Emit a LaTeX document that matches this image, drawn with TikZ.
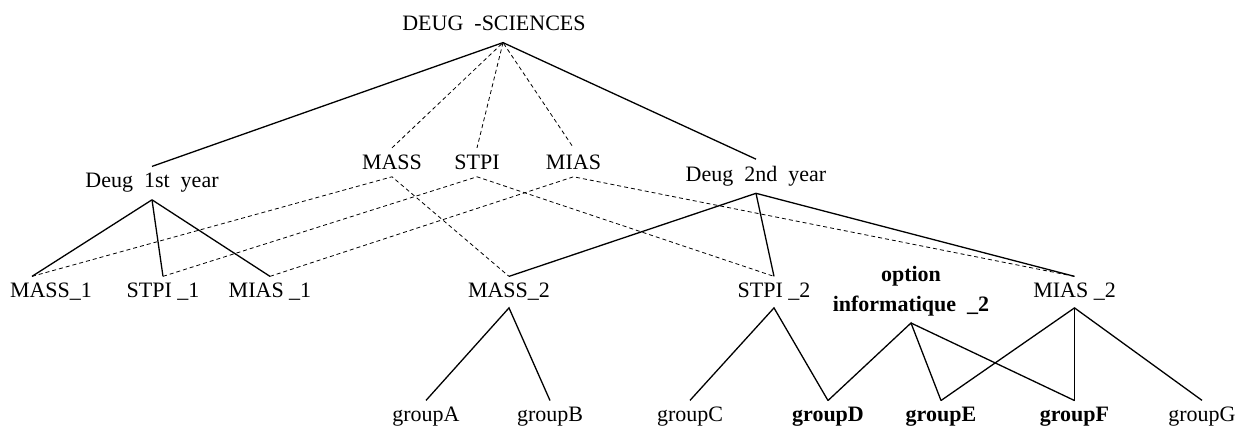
\documentclass[tikz,border=0pt]{standalone}
\usepackage{fontspec}
\setmainfont{Liberation Serif}
\usepackage{tikz}
\usetikzlibrary{positioning}

\begin{document}
\begin{tikzpicture}[x=0.5pt, y=-0.5pt, lbl/.style={font=\fontsize{11}{13.6}\selectfont, anchor=base}, blbl/.style={font=\fontsize{11}{13.6}\selectfont\bfseries, anchor=base}, tie/.style={line width=0.65pt}, link/.style={dashed, dash pattern=on 2pt off 1.5pt, line width=0.4pt}]
    \useasboundingbox (0,0) rectangle (1239,427);
    % root and years
    \node[lbl, inner ysep=5.5pt] (deugsci) at (494,31) {DEUG~ -SCIENCES};
    \node[lbl] (deug1) at (152,188) {Deug~ 1st~ year};
    \node[lbl] (deug2) at (756,181.5) {Deug~ 2nd~ year};
    % sections
    \node[lbl] (mass) at (392,169.5) {MASS};
    \node[lbl] (stpi) at (477,169.5) {STPI};
    \node[lbl] (mias) at (573.5,169.5) {MIAS};
    % first year sections
    \node[lbl] (mass1) at (51,298) {MASS\_1};
    \node[lbl] (stpi1) at (163,298) {STPI \_1};
    \node[lbl] (mias1) at (270,298) {MIAS \_1};
    % second year sections
    \node[lbl] (mass2) at (509,298) {MASS\_2};
    \node[lbl] (stpi2) at (774,298) {STPI \_2};
    \node[blbl, anchor=south, align=center] (optinfo) at (911,323) {option\\[1.5pt]informatique~ \_2};
    \node[lbl] (mias2) at (1074.5,298) {MIAS \_2};
    % groups
    \node[lbl] (groupA) at (426,422) {groupA};
    \node[lbl] (groupB) at (550,422) {groupB};
    \node[lbl] (groupC) at (690,422) {groupC};
    \node[blbl] (groupD) at (828,422) {groupD};
    \node[blbl] (groupE) at (941,422) {groupE};
    \node[blbl] (groupF) at (1074.5,422) {groupF};
    \node[lbl] (groupG) at (1202,422) {groupG};
    % tree lines
    \draw[tie] (deug1.north) -- ([xshift=4.5pt]deugsci.south) -- (deug2.north);
    \draw[tie] (deug1.south) -- ([xshift=-9.5pt]mass1.north);
    \draw[tie] (deug1.south) -- (stpi1.north);
    \draw[tie] (deug1.south) -- (mias1.north);
    \draw[tie] (deug2.south) -- (mass2.north);
    \draw[tie] (deug2.south) -- (stpi2.north);
    \draw[tie] (deug2.south) -- (mias2.north);
    \draw[tie] (groupA.north) -- (mass2.south) -- (groupB.north);
    \draw[tie] (groupC.north) -- (stpi2.south) -- (groupD.north);
    \draw[tie] (groupD.north) -- (optinfo.south) -- (groupE.north);
    \draw[tie] (optinfo.south) -- (groupF.north);
    \draw[tie] (groupE.north) -- (mias2.south) -- (groupG.north);
    \draw[tie] (mias2.south) -- (groupF.north);
    % dashed section links
    \draw[link] (mass.north) -- ([xshift=4.5pt]deugsci.south) -- (mias.north);
    \draw[link] ([xshift=4.5pt]deugsci.south) -- (stpi.north);
    \draw[link] ([xshift=-9.5pt]mass1.north) -- (mass.south) -- (mass2.north);
    \draw[link] (stpi1.north) -- (stpi.south) -- (stpi2.north);
    \draw[link] (mias1.north) -- (mias.south) -- (mias2.north);
\end{tikzpicture}
\end{document}
